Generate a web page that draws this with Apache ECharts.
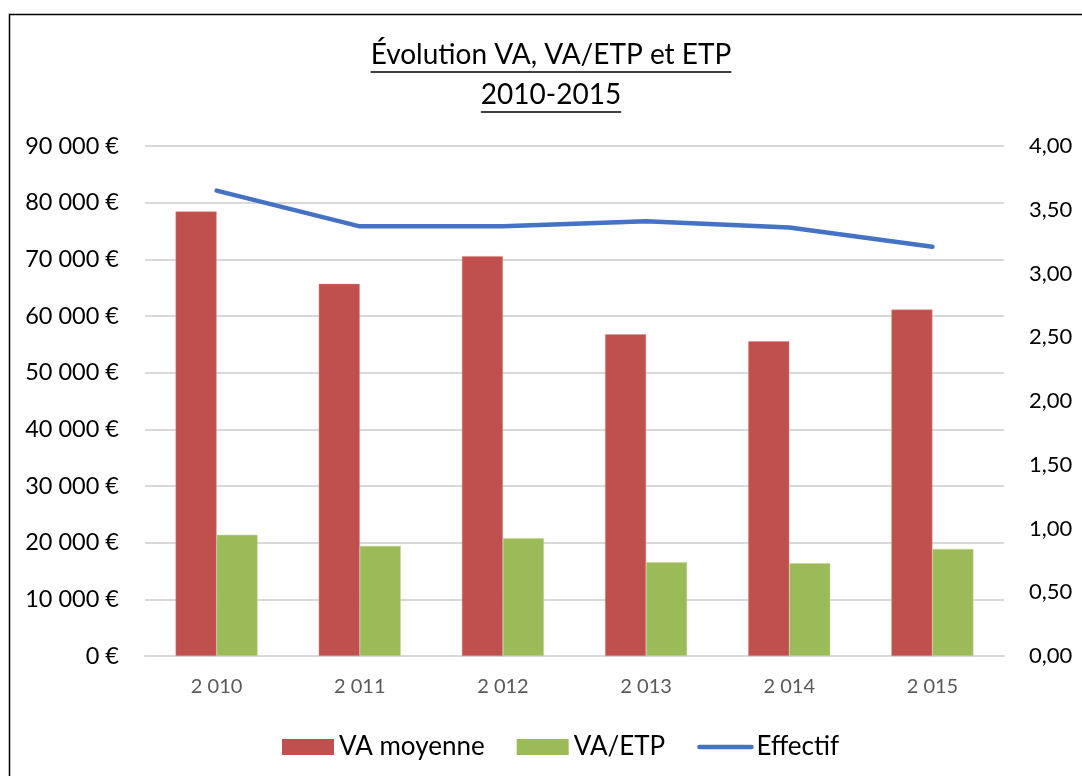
<!DOCTYPE html>
<html>
<head>
<meta charset="utf-8">
<title>Évolution VA, VA/ETP et ETP</title>
<script src="https://cdn.jsdelivr.net/npm/echarts@6/dist/echarts.min.js"></script>
<style>
  html, body { margin: 0; padding: 0; background: #fff; }
  #chart { width: 1082px; height: 776px; }
</style>
</head>
<body>
<div id="chart"></div>
<script>
// Years on the category axis
const categories = ['2 010', '2 011', '2 012', '2 013', '2 014', '2 015'];
// Average value added (€)
const vaMoyenne = [78450, 65670, 70560, 56780, 55540, 61130];
// Value added per full-time equivalent (€)
const vaEtp = [21380, 19430, 20800, 16550, 16380, 18900];
// Headcount (FTE), right axis
const effectif = [3.65, 3.37, 3.37, 3.41, 3.36, 3.21];

const FONT = 'Lato, "Open Sans", sans-serif';
const titleLines = ['Évolution VA, VA/ETP et ETP', '2010-2015'];
const titleSize = 28;
const titleX = 551;
const titleY = [55, 95];

function textWidth(str, size) {
  const ctx = document.createElement('canvas').getContext('2d');
  ctx.font = size + 'px ' + FONT;
  return ctx.measureText(str).width;
}

function euro(v) {
  return String(v).replace(/\B(?=(\d{3})+(?!\d))/g, ' ') + ' €';
}

const chart = echarts.init(document.getElementById('chart'));

// Title lines with underline
const titleGraphics = [];
titleLines.forEach((t, i) => {
  titleGraphics.push({
    type: 'text', x: titleX, y: titleY[i], silent: true,
    style: { text: t, font: titleSize + 'px ' + FONT, fill: '#000', align: 'center', verticalAlign: 'middle' }
  });
  const w = textWidth(t, titleSize);
  titleGraphics.push({
    type: 'line', silent: true,
    shape: { x1: titleX - w / 2, y1: titleY[i] + 17, x2: titleX + w / 2, y2: titleY[i] + 17 },
    style: { stroke: '#000', lineWidth: 1.5 }
  });
});

chart.setOption({
  animation: false,
  textStyle: { fontFamily: FONT },
  graphic: [
    {
      type: 'rect', silent: true, z: -1,
      shape: { x: 9.5, y: 14.5, width: 1200, height: 900 },
      style: { fill: 'none', stroke: '#000', lineWidth: 1.5 }
    }
  ].concat(titleGraphics),
  grid: { left: 145, right: 78, top: 146, bottom: 120, containLabel: false },
  legend: {
    left: 277, top: 729,
    itemWidth: 52, itemHeight: 16, itemGap: 32,
    textStyle: { fontSize: 26, color: '#000', fontFamily: FONT },
    data: [
      { name: 'VA moyenne', icon: 'rect', itemStyle: { borderWidth: 0 } },
      { name: 'VA/ETP', icon: 'rect', itemStyle: { borderWidth: 0 } },
      {
        name: 'Effectif',
        itemStyle: { opacity: 0 },
        lineStyle: { width: 4.5, color: '#4472C4', cap: 'round' }
      }
    ]
  },
  xAxis: {
    type: 'category',
    data: categories,
    axisLine: { show: true, lineStyle: { color: '#d9d9d9', width: 2 } },
    axisTick: { show: false },
    axisLabel: { color: '#595959', fontSize: 20, margin: 21, fontFamily: FONT }
  },
  yAxis: [
    {
      type: 'value', min: 0, max: 90000, interval: 10000,
      axisLine: { show: false }, axisTick: { show: false },
      splitLine: { lineStyle: { color: '#d9d9d9', width: 2 } },
      axisLabel: { color: '#000', fontSize: 23.5, margin: 26, formatter: euro, fontFamily: FONT }
    },
    {
      type: 'value', min: 0, max: 4, interval: 0.5, position: 'right',
      axisLine: { show: false }, axisTick: { show: false },
      splitLine: { show: false },
      axisLabel: {
        color: '#000', fontSize: 22, margin: 25, fontFamily: FONT,
        formatter: v => v.toFixed(2).replace('.', ',')
      }
    }
  ],
  series: [
    {
      name: 'VA moyenne', type: 'bar', data: vaMoyenne, yAxisIndex: 0,
      barWidth: 41, barGap: '0%',
      itemStyle: { color: '#C0504D', borderColor: '#d98a88', borderWidth: 0.5 }
    },
    {
      name: 'VA/ETP', type: 'bar', data: vaEtp, yAxisIndex: 0,
      barWidth: 41,
      itemStyle: { color: '#9BBB59', borderColor: '#c3d89a', borderWidth: 0.5 }
    },
    {
      name: 'Effectif', type: 'line', data: effectif, yAxisIndex: 1,
      symbol: 'none', z: 5,
      lineStyle: { color: '#4472C4', width: 4.5, cap: 'round', join: 'round' },
      itemStyle: { color: '#4472C4' }
    }
  ]
});
</script>
</body>
</html>
